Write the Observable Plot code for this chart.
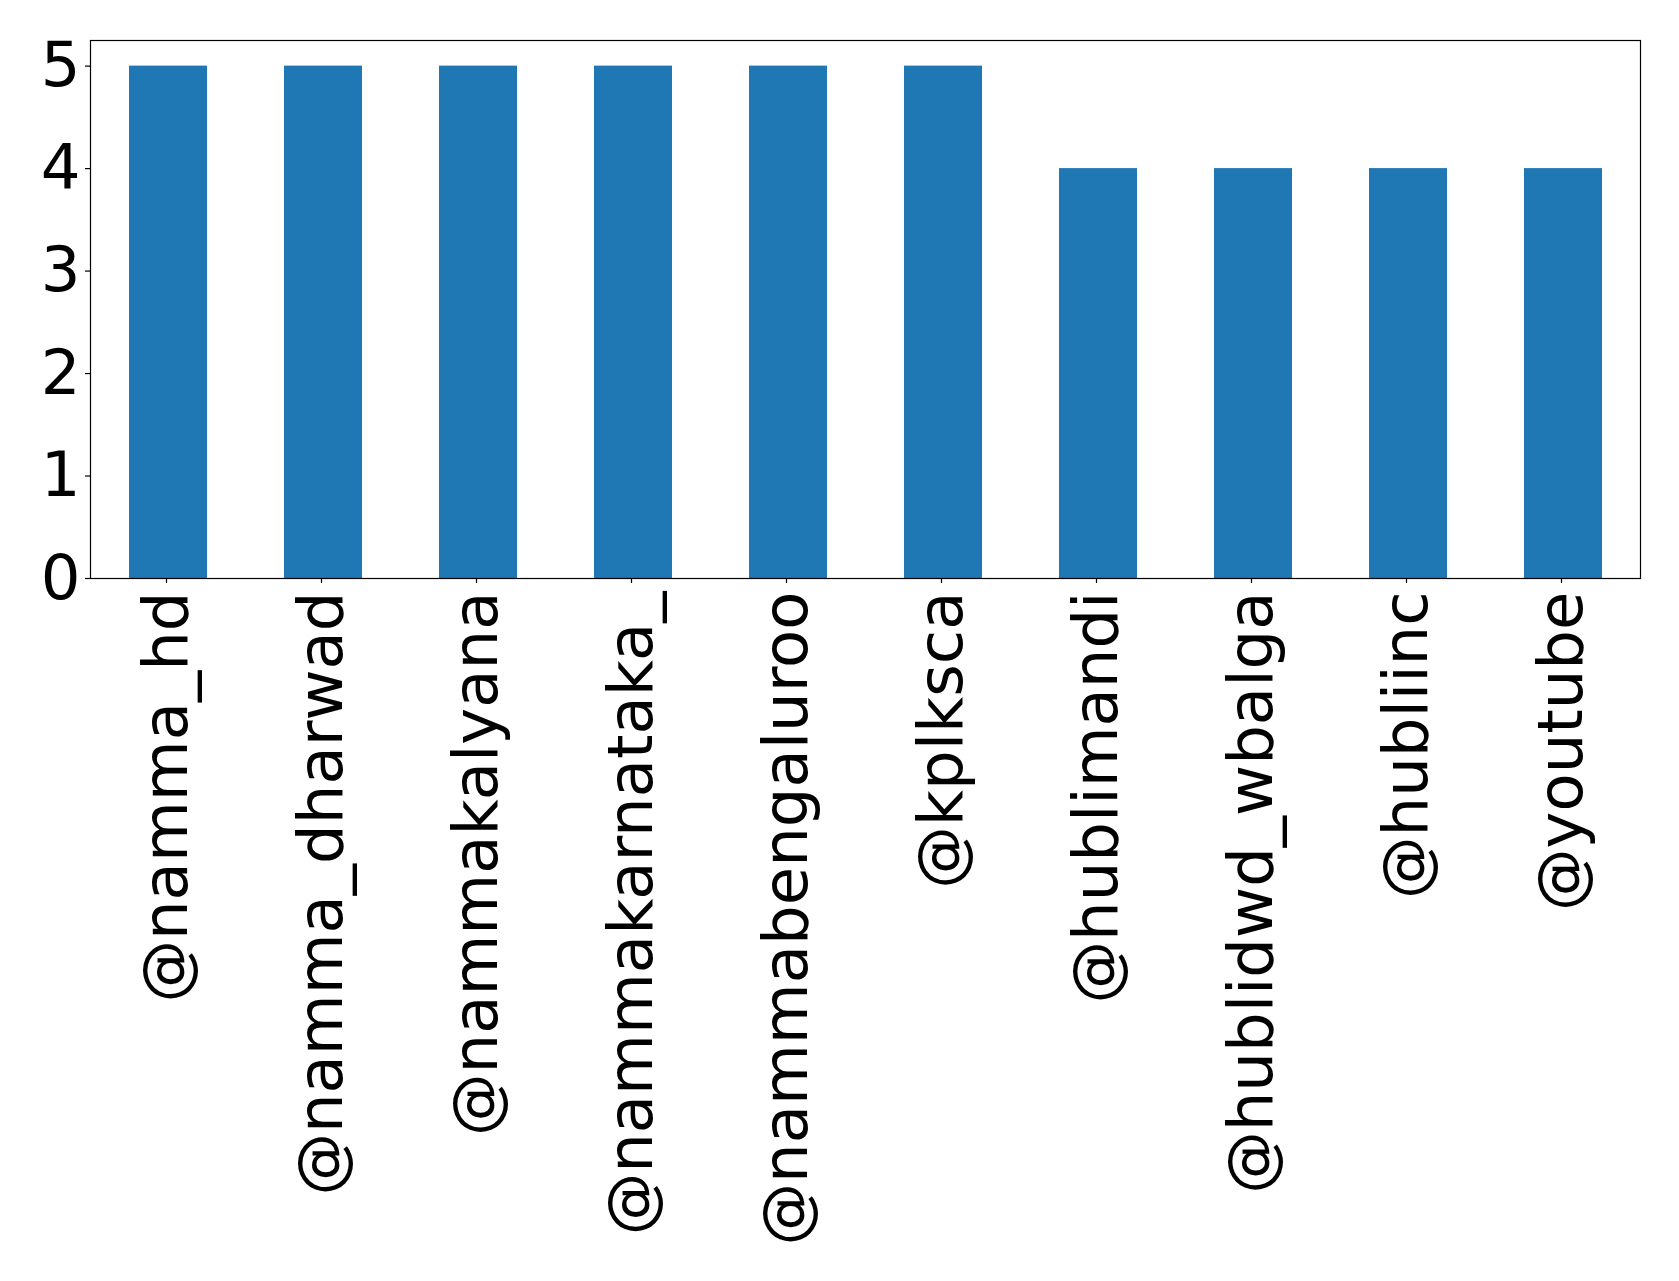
<!DOCTYPE html>
<html>
<head>
<meta charset="utf-8">
<script src="https://cdn.jsdelivr.net/npm/d3@7"></script>
<script src="https://cdn.jsdelivr.net/npm/@observablehq/plot@0.6"></script>
<style>
  html, body { margin: 0; padding: 0; background: #fff; }
  #chart svg { display: block; }
</style>
</head>
<body>
<div id="chart"></div>
<script>
// Accounts and how many times each was mentioned
const accounts = [
  "@namma_hd", "@namma_dharwad", "@nammakalyana", "@nammakarnataka_",
  "@nammabengaluroo", "@kplksca", "@hublimandi", "@hublidwd_wbalga",
  "@hubliinc", "@youtube"
];
const counts = [5, 5, 5, 5, 5, 5, 4, 4, 4, 4];
const yTicks = [0, 1, 2, 3, 4, 5];

const data = accounts.map((account, i) => ({account, count: counts[i]}));

const chart = Plot.plot({
  width: 1679,
  height: 1281,
  marginLeft: 90,
  marginRight: 39,
  marginTop: 40,
  marginBottom: 703,
  style: {
    fontFamily: "DejaVu Sans, sans-serif",
    fontSize: "62.5px",
    color: "#000",
    background: "#fff"
  },
  x: {domain: accounts, paddingInner: 0.5, paddingOuter: 0.25, label: null},
  y: {domain: [0, 5.25], label: null},
  marks: [
    Plot.barY(data, {x: "account", y: "count", fill: "#1f77b4"}),
    Plot.frame({stroke: "#000", strokeWidth: 1.2}),
    Plot.axisY({
      ticks: yTicks, tickFormat: d3.format("d"),
      tickSize: 5, tickPadding: 5, fontSize: 62.5, stroke: "#000", strokeWidth: 1.2
    }),
    Plot.axisX({
      tickRotate: -90, tickSize: 5, tickPadding: 8, fontSize: 62.5,
      dx: -2, stroke: "#000", strokeWidth: 1.2
    })
  ]
});

document.getElementById("chart").appendChild(chart);
</script>
</body>
</html>
